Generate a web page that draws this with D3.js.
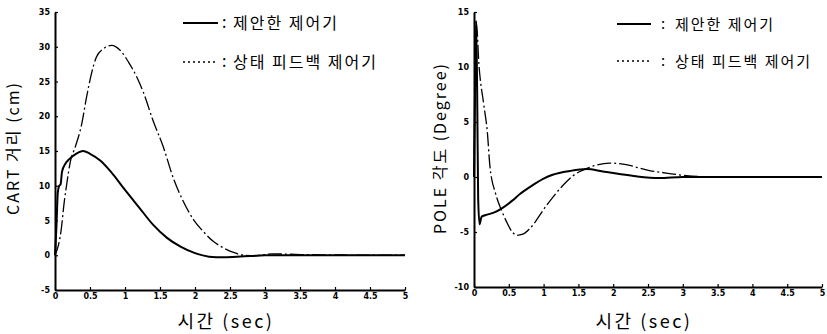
<!DOCTYPE html>
<html>
<head>
<meta charset="utf-8">
<script src="https://cdn.jsdelivr.net/npm/d3@7"></script>
<style>
  html, body { margin: 0; padding: 0; background: #fff; }
  svg { display: block; }
  .tick text { font-family: "DejaVu Sans", sans-serif; font-weight: bold; font-size: 8px; fill: #000; }
  .kr { font-family: "Noto Sans CJK KR", sans-serif; fill: #000; }
</style>
</head>
<body>
<svg id="chart" width="827" height="334"></svg>
<script>
// ---------- DATA ----------
const xTicks = [0, 0.5, 1, 1.5, 2, 2.5, 3, 3.5, 4, 4.5, 5];
const cartTicks = [-5, 0, 5, 10, 15, 20, 25, 30, 35];
const poleTicks = [-10, -5, 0, 5, 10, 15];

const legendProposed = "제안한 제어기";
const legendStateFb = "상태 피드백 제어기";
const xTitle = "시간 (sec)";
const cartTitle = "CART 거리 (cm)";
const poleTitle = "POLE 각도 (Degree)";

// Cart distance – proposed controller
const cartPropT = [0, 0.02, 0.04, 0.06, 0.08, 0.1, 0.15, 0.2, 0.3, 0.4, 0.5, 0.65, 0.8, 1.0, 1.2, 1.4, 1.6, 1.8, 2.0, 2.2, 2.4, 2.6, 2.8, 3.0, 3.5, 4.0, 4.5, 5.0];
const cartPropV = [0, 4, 9, 10, 10.2, 12, 13.2, 13.8, 14.6, 15.0, 14.6, 13.6, 12.0, 9.4, 6.9, 4.4, 2.5, 1.2, 0.3, -0.2, -0.3, -0.2, -0.1, 0, 0, 0, 0, 0];

// Cart distance – state feedback controller
const cartFbT = [0, 0.05, 0.09, 0.13, 0.17, 0.22, 0.29, 0.38, 0.45, 0.52, 0.59, 0.69, 0.81, 0.93, 1.05, 1.17, 1.26, 1.40, 1.55, 1.69, 1.83, 1.98, 2.12, 2.26, 2.38, 2.55, 2.7, 2.85, 3.1, 3.5, 4, 4.5, 5];
const cartFbV = [0, 1.5, 3.8, 7.5, 10.4, 13.5, 15.6, 18.8, 22.7, 26.1, 28.5, 29.7, 30.2, 29.5, 27.8, 25.6, 23.5, 19.4, 15.5, 11.1, 7.8, 5.1, 3.4, 2.0, 1.2, 0.4, 0, -0.1, 0.2, 0.1, 0.05, 0, 0];

// Pole angle – proposed controller
const polePropT = [0, 0.015, 0.03, 0.045, 0.06, 0.08, 0.11, 0.2, 0.3, 0.4, 0.55, 0.66, 0.83, 1.0, 1.13, 1.38, 1.62, 1.85, 2.09, 2.33, 2.66, 3.0, 3.5, 4, 4.5, 5];
const polePropV = [0, 8, 14.2, 8, -2, -4.3, -3.6, -3.4, -3.2, -2.85, -2.15, -1.55, -0.8, -0.15, 0.2, 0.55, 0.72, 0.5, 0.27, 0.06, -0.1, 0, 0, 0, 0, 0];

// Pole angle – state feedback controller
const poleFbT = [0, 0.015, 0.035, 0.07, 0.14, 0.19, 0.23, 0.31, 0.4, 0.47, 0.55, 0.62, 0.7, 0.8, 1.04, 1.23, 1.42, 1.66, 1.95, 2.14, 2.52, 2.76, 3.05, 3.5, 4, 4.5, 5];
const poleFbV = [0, 8, 14, 10.3, 6.6, 4.2, 0.9, -1.5, -3.1, -4.1, -5.0, -5.3, -5.2, -4.7, -2.6, -1.1, 0.1, 0.88, 1.27, 1.18, 0.58, 0.36, 0.12, 0, 0, 0, 0];

// ---------- DRAW ----------
const svg = d3.select("#chart");
const fmt = d => String(d);
const dashFb = "14,3,2,3";

function panel(cfg) {
  const x = d3.scaleLinear().domain([0, 5]).range(cfg.xr);
  const y = d3.scaleLinear().domain(cfg.yd).range(cfg.yr);
  const g = svg.append("g");

  const xa = g.append("g").attr("transform", `translate(0,${cfg.yr[0]})`)
    .call(d3.axisBottom(x).tickValues(xTicks).tickFormat(fmt).tickSizeInner(-3).tickSizeOuter(0).tickPadding(3));
  const ya = g.append("g").attr("transform", `translate(${cfg.xr[0]},0)`)
    .call(d3.axisLeft(y).tickValues(cfg.yt).tickFormat(fmt).tickSizeInner(-3).tickSizeOuter(0).tickPadding(5));
  [xa, ya].forEach(a => {
    a.select(".domain").attr("stroke", "#000").attr("stroke-width", 2);
    a.selectAll(".tick line").attr("stroke", "#000").attr("stroke-width", 1.2);
  });

  const line = d3.line().x(d => x(d[0])).y(d => y(d[1])).curve(d3.curveMonotoneX);
  g.append("path").datum(cfg.fbT.map((t, i) => [t, cfg.fbV[i]]))
    .attr("d", line).attr("fill", "none").attr("stroke", "#000")
    .attr("stroke-width", 1.3).attr("stroke-dasharray", dashFb);
  g.append("path").datum(cfg.pT.map((t, i) => [t, cfg.pV[i]]))
    .attr("d", line).attr("fill", "none").attr("stroke", "#000")
    .attr("stroke-width", 2);

  // axis titles
  g.append("text").attr("class", "kr")
    .attr("x", (cfg.xr[0] + cfg.xr[1]) / 2 - 4).attr("y", 328)
    .attr("text-anchor", "middle").attr("font-size", 18)
    .attr("letter-spacing", "2.5px").text(xTitle);
  g.append("text").attr("class", "kr")
    .attr("transform", `translate(${cfg.ytx},${cfg.yty}) rotate(-90)`)
    .attr("text-anchor", "middle").attr("font-size", 16)
    .attr("letter-spacing", "2px").text(cfg.ytitle);

  // legend
  const L = cfg.leg;
  [[legendProposed, L.y1, null], [legendStateFb, L.y2, "2,3"]].forEach(([lab, ly, da]) => {
    const ln = g.append("line").attr("x1", L.x1).attr("x2", L.x2).attr("y1", ly).attr("y2", ly)
      .attr("stroke", "#000").attr("stroke-width", da ? 1.5 : 2);
    if (da) ln.attr("stroke-dasharray", da);
    g.append("text").attr("class", "kr").attr("x", L.cx).attr("y", ly + 5)
      .attr("font-size", L.fs).text(":");
    g.append("text").attr("class", "kr").attr("x", L.tx).attr("y", ly + 6)
      .attr("font-size", L.fs).attr("letter-spacing", "2px").text(lab);
  });
}

panel({
  xr: [55, 405], yd: [-5, 35], yr: [290, 12], yt: cartTicks,
  pT: cartPropT, pV: cartPropV, fbT: cartFbT, fbV: cartFbV,
  ytitle: cartTitle, ytx: 19, yty: 148,
  leg: { x1: 183, x2: 218, y1: 23, y2: 62, cx: 222, tx: 233, fs: 16 }
});
panel({
  xr: [474, 822], yd: [-10, 15], yr: [287, 12], yt: poleTicks,
  pT: polePropT, pV: polePropV, fbT: poleFbT, fbV: poleFbV,
  ytitle: poleTitle, ytx: 446, yty: 148,
  leg: { x1: 617, x2: 651, y1: 24, y2: 61, cx: 661, tx: 675, fs: 15 }
});
</script>
</body>
</html>
